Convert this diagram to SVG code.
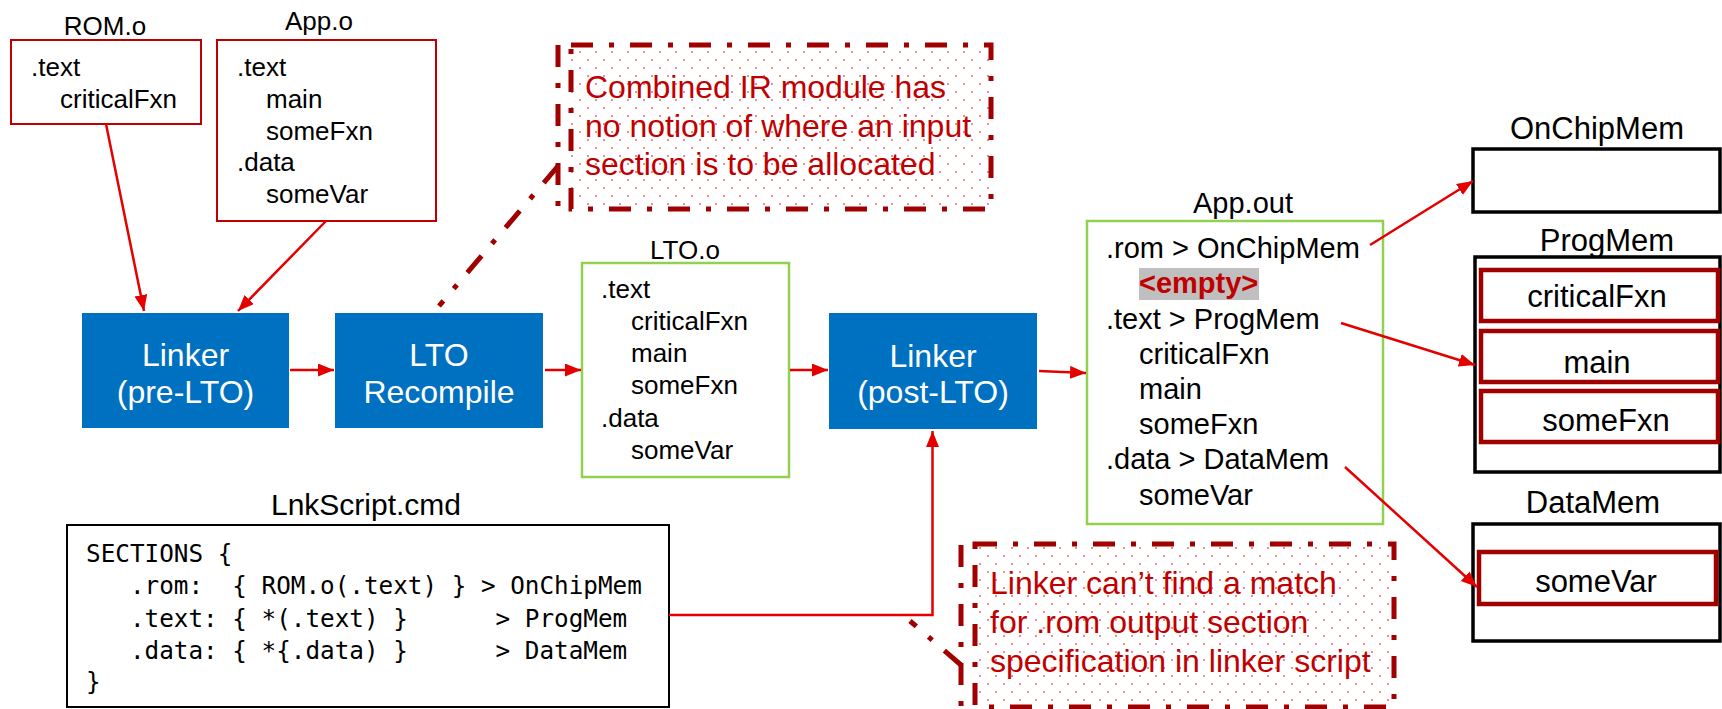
<svg xmlns="http://www.w3.org/2000/svg" width="1722" height="709" viewBox="0 0 1722 709">
  <style>
    text { font-family: "Liberation Sans", Arial, sans-serif; fill: #000; }
    .lbl { font-size: 26px; }
    .lbl31 { font-size: 31px; }
    .mid { text-anchor: middle; }
    .obj { fill: #fff; stroke: #C00000; stroke-width: 2; }
    .lto { fill: #fff; stroke: #92D050; stroke-width: 2.5; }
    .proc { fill: #0070C0; }
    .proc-t { fill: #fff; font-size: 32px; text-anchor: middle; }
    .mem { fill: #fff; stroke: #000; stroke-width: 3.5; }
    .sect { fill: #fff; stroke: #A00000; stroke-width: 4.5; }
    .code { font-family: "DejaVu Sans Mono", "Liberation Mono", monospace; font-size: 24.3px; white-space: pre; }
    .note { fill: #C00000; font-size: 32px; }
    .callout { fill: url(#dots); stroke: #A00000; stroke-width: 5; stroke-dasharray: 22 16 5 16; }
    .dashdot { fill: none; stroke: #A00000; stroke-width: 5; stroke-dasharray: 22 16 5 16; }
    .conn { fill: none; stroke: #E50000; stroke-width: 2.5; marker-end: url(#arrow); }
  </style>
  <defs>
    <marker id="arrow" markerUnits="userSpaceOnUse" markerWidth="17" markerHeight="14" refX="16" refY="6.5" orient="auto">
      <path d="M0,0 L16,6.5 L0,13 z" fill="#E50000"/>
    </marker>
    <pattern id="dots" patternUnits="userSpaceOnUse" width="16" height="16">
      <rect width="16" height="16" fill="#fff"/>
      <rect x="3" y="3" width="2" height="2" fill="#F58A8A"/>
      <rect x="11" y="11" width="2" height="2" fill="#F58A8A"/>
    </pattern>
  </defs>

  <!-- object files -->
  <g id="rom-o">
    <text class="lbl mid" x="105" y="35">ROM.o</text>
    <rect class="obj" x="11" y="40" width="190" height="84"/>
    <text class="lbl" x="31" y="76">.text</text>
    <text class="lbl" x="60" y="108">criticalFxn</text>
  </g>
  <g id="app-o">
    <text class="lbl mid" x="319" y="29.5">App.o</text>
    <rect class="obj" x="217" y="40" width="219" height="181"/>
    <text class="lbl" x="237" y="76">.text</text>
    <text class="lbl" x="266" y="108">main</text>
    <text class="lbl" x="266" y="139.5">someFxn</text>
    <text class="lbl" x="237" y="171">.data</text>
    <text class="lbl" x="266" y="203">someVar</text>
  </g>

  <!-- tool steps -->
  <g id="linker-pre">
    <rect class="proc" x="82" y="313" width="207" height="115"/>
    <text class="proc-t" x="185.5" y="366">Linker</text>
    <text class="proc-t" x="185.5" y="403">(pre-LTO)</text>
  </g>
  <g id="lto-recompile">
    <rect class="proc" x="335" y="313" width="208" height="115"/>
    <text class="proc-t" x="439" y="366">LTO</text>
    <text class="proc-t" x="439" y="403">Recompile</text>
  </g>
  <g id="lto-o">
    <text class="lbl mid" x="685" y="259">LTO.o</text>
    <rect class="lto" x="582" y="263" width="207" height="214"/>
    <text class="lbl" x="601" y="298">.text</text>
    <text class="lbl" x="631" y="330">criticalFxn</text>
    <text class="lbl" x="631" y="362">main</text>
    <text class="lbl" x="631" y="394">someFxn</text>
    <text class="lbl" x="601" y="427">.data</text>
    <text class="lbl" x="631" y="459">someVar</text>
  </g>
  <g id="linker-post">
    <rect class="proc" x="829" y="313" width="208" height="116"/>
    <text class="proc-t" x="933" y="366.5">Linker</text>
    <text class="proc-t" x="933" y="403">(post-LTO)</text>
  </g>

  <!-- output file -->
  <g id="app-out" style="font-size:29px">
    <text class="mid" x="1243" y="213" style="font-size:29px">App.out</text>
    <rect class="lto" x="1087" y="221" width="296" height="303"/>
    <text x="1106" y="258" style="font-size:29px">.rom &gt; OnChipMem</text>
    <rect x="1139" y="268" width="120" height="32" fill="#BFBFBF"/>
    <text x="1139" y="293" style="font-size:29px;font-weight:bold;fill:#C00000">&lt;empty&gt;</text>
    <text x="1106" y="329" style="font-size:29px">.text &gt; ProgMem</text>
    <text x="1139" y="364" style="font-size:29px">criticalFxn</text>
    <text x="1139" y="399" style="font-size:29px">main</text>
    <text x="1139" y="434" style="font-size:29px">someFxn</text>
    <text x="1106" y="469" style="font-size:29px">.data &gt; DataMem</text>
    <text x="1139" y="505" style="font-size:29px">someVar</text>
  </g>

  <!-- memory regions -->
  <g id="onchipmem">
    <text class="lbl31 mid" x="1597" y="139">OnChipMem</text>
    <rect class="mem" x="1473" y="149" width="247" height="63"/>
  </g>
  <g id="progmem">
    <text class="lbl31 mid" x="1607" y="250.5">ProgMem</text>
    <rect class="mem" x="1475" y="257" width="245" height="215"/>
    <rect class="sect" x="1481" y="270" width="237" height="51"/>
    <text class="lbl31 mid" x="1597" y="306.5">criticalFxn</text>
    <rect class="sect" x="1481" y="331" width="237" height="51"/>
    <text class="lbl31 mid" x="1597" y="372.5">main</text>
    <rect class="sect" x="1481" y="391" width="237" height="51"/>
    <text class="lbl31 mid" x="1606" y="430.5">someFxn</text>
  </g>
  <g id="datamem">
    <text class="lbl31 mid" x="1593" y="513">DataMem</text>
    <rect class="mem" x="1473" y="524" width="247" height="117"/>
    <rect class="sect" x="1479" y="552" width="237" height="52"/>
    <text class="lbl31 mid" x="1596" y="591.5">someVar</text>
  </g>

  <!-- linker command file -->
  <g id="lnkscript">
    <text class="mid" x="366" y="515" style="font-size:30px">LnkScript.cmd</text>
    <rect x="67" y="525" width="602" height="182" fill="#fff" stroke="#000" stroke-width="2"/>
    <text class="code" x="86" y="562">SECTIONS {</text>
    <text class="code" x="86" y="593.5">   .rom:  { ROM.o(.text) } &gt; OnChipMem</text>
    <text class="code" x="86" y="626.5">   .text: { *(.text) }      &gt; ProgMem</text>
    <text class="code" x="86" y="658.5">   .data: { *{.data) }      &gt; DataMem</text>
    <text class="code" x="86" y="690">}</text>
  </g>

  <!-- notes -->
  <g id="note-ir">
    <rect class="callout" x="571" y="45" width="420" height="164"/>
    <line class="dashdot" x1="558" y1="45" x2="558" y2="207"/>
    <line class="dashdot" x1="558" y1="166" x2="439" y2="306"/>
    <text class="note" x="585" y="98">Combined IR module has</text>
    <text class="note" x="585" y="136.5">no notion of where an input</text>
    <text class="note" x="585" y="175">section is to be allocated</text>
  </g>
  <g id="note-match">
    <rect class="callout" x="975" y="544" width="419" height="163"/>
    <line class="dashdot" x1="961" y1="545" x2="961" y2="709"/>
    <line class="dashdot" x1="961" y1="665" x2="910" y2="621"/>
    <text class="note" x="990" y="594">Linker can’t find a match</text>
    <text class="note" x="990" y="633">for .rom output section</text>
    <text class="note" x="990" y="671.5">specification in linker script</text>
  </g>

  <!-- connectors -->
  <g id="connectors">
    <line class="conn" x1="106" y1="124" x2="144" y2="311"/>
    <line class="conn" x1="326" y1="221" x2="238" y2="311"/>
    <line class="conn" x1="290" y1="370" x2="334" y2="370"/>
    <line class="conn" x1="545" y1="370" x2="581" y2="370"/>
    <line class="conn" x1="790" y1="370" x2="828" y2="370"/>
    <line class="conn" x1="1039" y1="371" x2="1086" y2="373"/>
    <path class="conn" d="M669,615 H932.5 V431"/>
    <line class="conn" x1="1370" y1="245" x2="1473" y2="181"/>
    <line class="conn" x1="1341" y1="323" x2="1475" y2="365"/>
    <line class="conn" x1="1345" y1="467" x2="1477" y2="587"/>
  </g>
</svg>
